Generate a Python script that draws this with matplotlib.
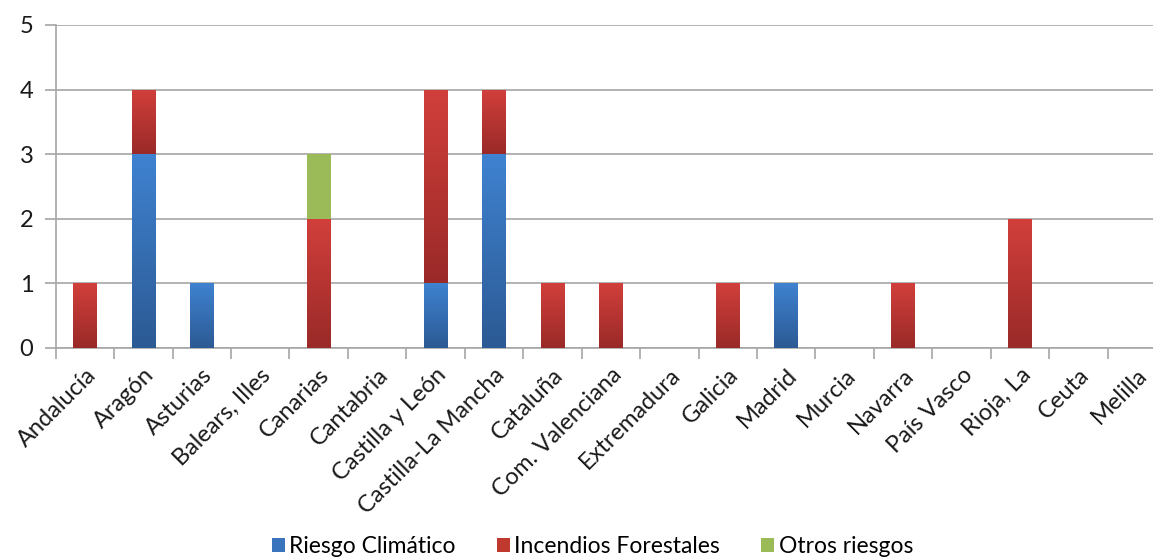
import matplotlib as mpl
import matplotlib.pyplot as plt
import numpy as np
from matplotlib.colors import LinearSegmentedColormap

mpl.rcParams['font.family'] = ['Lato', 'DejaVu Sans']

regiones = ['Andalucía', 'Aragón', 'Asturias', 'Balears, Illes', 'Canarias', 'Cantabria',
            'Castilla y León', 'Castilla-La Mancha', 'Cataluña', 'Com. Valenciana',
            'Extremadura', 'Galicia', 'Madrid', 'Murcia', 'Navarra', 'País Vasco',
            'Rioja, La', 'Ceuta', 'Melilla']
riesgo_climatico = [0, 3, 1, 0, 0, 0, 1, 3, 0, 0, 0, 0, 1, 0, 0, 0, 0, 0, 0]
incendios = [1, 1, 0, 0, 2, 0, 3, 1, 1, 1, 0, 1, 0, 0, 1, 0, 2, 0, 0]
otros = [0, 0, 0, 0, 1, 0, 0, 0, 0, 0, 0, 0, 0, 0, 0, 0, 0, 0, 0]

# (name, values, legend colour, gradient bottom, gradient top)
series = [
    ('Riesgo Climático', riesgo_climatico, '#3a74bd', '#2c5a94', '#3f82d0'),
    ('Incendios Forestales', incendios, '#c0392f', '#9a2a28', '#d13f3b'),
    ('Otros riesgos', otros, '#9bbb59', '#9bbb59', '#9bbb59'),
]

fig = plt.figure(figsize=(11.53, 5.58), dpi=100)
# plot area runs a little past the right edge, as in the cropped original
ax = fig.add_axes([0.0483, 0.3768, 0.9630, 0.5784])

x = np.arange(len(regiones))
bottom = np.zeros(len(regiones))
grad = np.linspace(0, 1, 64).reshape(-1, 1)
for nombre, vals, base, dark, light in series:
    vals = np.array(vals, dtype=float)
    bars = ax.bar(x, vals, 0.4, bottom=bottom, color=base, label=nombre, zorder=3)
    cmap = LinearSegmentedColormap.from_list(nombre, [dark, light])
    for b in bars:
        if b.get_height() <= 0:
            continue
        x0, y0 = b.get_x(), b.get_y()
        im = ax.imshow(grad, cmap=cmap, origin='lower', aspect='auto', zorder=4,
                       extent=[x0, x0 + b.get_width(), y0, y0 + b.get_height()])
        im.set_clip_path(b)
    bottom += vals

ax.set_xlim(-0.5, len(regiones) - 0.5)
ax.set_ylim(0, 5)
ax.set_yticks(range(6))
ax.yaxis.grid(True, color='#a6a6a6', linewidth=1.2, zorder=0)
ax.set_axisbelow(True)

ax.set_xticks(x)
ax.set_xticklabels(regiones, rotation=45, ha='right', rotation_mode='anchor',
                   fontsize=17, color='#1a1a1a')
ax.set_xticks(np.arange(-0.5, len(regiones)), minor=True)
ax.tick_params(axis='x', which='major', length=0, pad=12)
ax.tick_params(axis='x', which='minor', length=8, color='#a6a6a6', width=1.2)
ax.tick_params(axis='y', length=8, color='#a6a6a6', width=1.2, labelsize=17,
               pad=8, labelcolor='#1a1a1a')

for s in ['top', 'right']:
    ax.spines[s].set_visible(False)
for s in ['left', 'bottom']:
    ax.spines[s].set_color('#a6a6a6')
    ax.spines[s].set_linewidth(1.2)

fig.legend(loc='lower center', ncol=3, frameon=False, fontsize=16.5,
           bbox_to_anchor=(0.514, -0.035), handlelength=0.55, handleheight=0.55,
           handletextpad=0.2, columnspacing=1.8)

fig.savefig('out.png', dpi=100)
